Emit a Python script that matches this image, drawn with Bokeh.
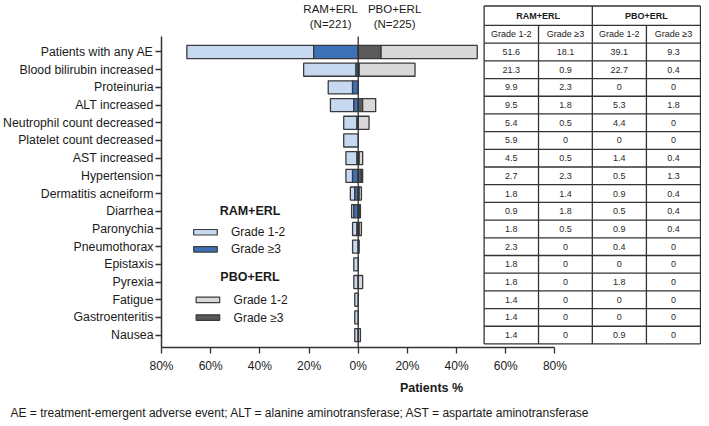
from bokeh.plotting import figure
from bokeh.models import Range1d, FixedTicker, CustomJSTickFormatter, Title
from bokeh.embed import file_html
from bokeh.resources import INLINE
from bokeh.core.properties import value

# ---------------- data ----------------
categories = ["Patients with any AE", "Blood bilirubin increased", "Proteinuria",
              "ALT increased", "Neutrophil count decreased", "Platelet count decreased",
              "AST increased", "Hypertension", "Dermatitis acneiform", "Diarrhea",
              "Paronychia", "Pneumothorax", "Epistaxis", "Pyrexia", "Fatigue",
              "Gastroenteritis", "Nausea"]
ram_g12 = [51.6, 21.3, 9.9, 9.5, 5.4, 5.9, 4.5, 2.7, 1.8, 0.9, 1.8, 2.3, 1.8, 1.8, 1.4, 1.4, 1.4]
ram_g3 = [18.1, 0.9, 2.3, 1.8, 0.5, 0, 0.5, 2.3, 1.4, 1.8, 0.5, 0, 0, 0, 0, 0, 0]
pbo_g12 = [39.1, 22.7, 0, 5.3, 4.4, 0, 1.4, 0.5, 0.9, 0.5, 0.9, 0.4, 0, 1.8, 0, 0, 0.9]
pbo_g3 = [9.3, 0.4, 0, 1.8, 0, 0, 0.4, 1.3, 0.4, 0.4, 0.4, 0, 0, 0, 0, 0, 0]
x_ticks = [-80, -60, -40, -20, 0, 20, 40, 60, 80]
group_labels = ["RAM+ERL", "PBO+ERL"]
group_n = ["(N=221)", "(N=225)"]
grade_labels = ["Grade 1-2", "Grade \u22653"]
x_label = "Patients %"
footnote = ("AE = treatment-emergent adverse event; ALT = alanine aminotransferase; "
            "AST = aspartate aminotransferase")

# ---------------- style ----------------
FONT = "Liberation Sans"
C_RAM12, C_RAM3 = "#c6d9f1", "#3e70b8"
C_PBO12, C_PBO3 = "#d9d9d9", "#5a5a5a"
EDGE = "#3a3a3a"
TXT = "#1a1a1a"

# layout helpers (page pixel -> data)
X0PX, XS = 360.0, 2.5
Y0PX, YS = 51.5, 17.69
def px(x):
    return (x - X0PX) / XS
def py(y):
    return (y - Y0PX) / YS

W, H = 701, 426
p = figure(width=W, height=H, x_range=Range1d(-80, 139.6), y_range=Range1d(16.70, -2.91),
           output_backend="svg", toolbar_location=None,
           min_border_left=152, min_border_right=0, min_border_top=0, min_border_bottom=79)
p.styles = {"margin-top": "0px"}
p.outline_line_color = None
p.xgrid.visible = False
p.ygrid.visible = False
p.background_fill_color = "white"

n = len(categories)
idx = list(range(n))

def bars(lefts, rights, color):
    ys, ls, rs = [], [], []
    for i, l, r in zip(idx, lefts, rights):
        if abs(r - l) > 1e-9:
            ys.append(i); ls.append(l); rs.append(r)
    p.hbar(y=ys, left=ls, right=rs, height=0.74, fill_color=color,
           line_color=EDGE, line_width=1.3)

bars([-(a + b) for a, b in zip(ram_g12, ram_g3)], [-b for b in ram_g3], C_RAM12)
bars([-b for b in ram_g3], [0] * n, C_RAM3)
bars([0] * n, pbo_g3, C_PBO3)
bars(pbo_g3, [a + b for a, b in zip(pbo_g12, pbo_g3)], C_PBO12)

# zero line
p.segment(x0=[0], y0=[py(36)], x1=[0], y1=[16.70], line_color="#333333", line_width=1.3)

# axes
p.xaxis.ticker = FixedTicker(ticks=x_ticks)
p.xaxis.formatter = CustomJSTickFormatter(code="return Math.abs(tick) + '%';")
p.xaxis.bounds = (-80, 80)
p.xaxis.axis_label = x_label
p.xaxis.axis_label_text_font = FONT
p.xaxis.axis_label_text_font_style = "bold"
p.xaxis.axis_label_text_font_size = "12.5px"
p.xaxis.axis_label_text_color = TXT
p.xaxis.axis_label_standoff = 5
p.xaxis.major_label_text_font = FONT
p.xaxis.major_label_text_font_size = "12px"
p.xaxis.major_label_text_color = TXT
p.xaxis.major_label_standoff = 5

p.yaxis.ticker = FixedTicker(ticks=idx)
p.yaxis.major_label_overrides = {i: c for i, c in zip(idx, categories)}
p.yaxis.bounds = (py(36), 16.70)
p.yaxis.major_label_text_font = FONT
p.yaxis.major_label_text_font_size = "12.3px"
p.yaxis.major_label_text_color = TXT
p.yaxis.major_label_standoff = 2

for ax in (p.xaxis, p.yaxis):
    ax.axis_line_color = "#333333"
    ax.axis_line_width = 1.5
    ax.major_tick_line_color = "#333333"
    ax.major_tick_line_width = 1.3
    ax.major_tick_out = 6
    ax.major_tick_in = 0
    ax.minor_tick_line_color = None

# group headers above bars
p.text(x=[px(332), px(397)], y=[py(9), py(9)], text=group_labels,
       text_font=value(FONT), text_font_size="11.5px", text_color=TXT,
       text_align="center", text_baseline="middle")
p.text(x=[px(332), px(397)], y=[py(24), py(24)], text=group_n,
       text_font=value(FONT), text_font_size="11.5px", text_color=TXT,
       text_align="center", text_baseline="middle")

# legend
leg_items = [
    (group_labels[0], py(210), [(C_RAM12, grade_labels[0], py(231.7)), (C_RAM3, grade_labels[1], py(248.8))], px(204.7), px(230.7)),
    (group_labels[1], py(276), [(C_PBO12, grade_labels[0], py(299.3)), (C_PBO3, grade_labels[1], py(317))], px(207.2), px(233.3)),
]
for title, ty, rows, sx, lx in leg_items:
    p.text(x=[px(250)], y=[ty], text=[title], text_font=value(FONT), text_font_size="12.5px",
           text_font_style="bold", text_color=TXT, text_align="center", text_baseline="middle")
    for col, lab, yy in rows:
        p.rect(x=[sx], y=[yy], width=24 / XS, height=5.5 / YS, fill_color=col,
               line_color=EDGE, line_width=1.2)
        p.text(x=[lx], y=[yy], text=[lab], text_font=value(FONT), text_font_size="12px",
               text_color=TXT, text_align="left", text_baseline="middle")

# table
cols = [px(488), px(543.3), px(598), px(653), px(708)]
top, mid = -2.6, -1.5
hy = [top, mid] + [i - 0.5 for i in idx] + [n - 0.5]
p.segment(x0=[cols[0]] * len(hy), y0=hy, x1=[cols[-1]] * len(hy), y1=hy,
          line_color="#333333", line_width=1.3)
p.segment(x0=[cols[0], cols[2], cols[4]], y0=[top] * 3, x1=[cols[0], cols[2], cols[4]],
          y1=[n - 0.5] * 3, line_color="#333333", line_width=1.3)
p.segment(x0=[cols[1], cols[3]], y0=[mid] * 2, x1=[cols[1], cols[3]], y1=[n - 0.5] * 2,
          line_color="#333333", line_width=1.3)

centers = [(cols[k] + cols[k + 1]) / 2 for k in range(4)]
p.text(x=[(cols[0] + cols[2]) / 2, (cols[2] + cols[4]) / 2], y=[(top + mid) / 2] * 2,
       text=group_labels, text_font=value(FONT), text_font_size="9px", text_font_style="bold",
       text_color=TXT, text_align="center", text_baseline="middle")
p.text(x=centers, y=[-1.0] * 4, text=grade_labels * 2, text_font=value(FONT),
       text_font_size="9px", text_color=TXT, text_align="center", text_baseline="middle")

def fmt(v):
    return "0" if v == 0 else f"{v:.1f}"

tx, ty, tt = [], [], []
for k, series in enumerate([ram_g12, ram_g3, pbo_g12, pbo_g3]):
    for i, v in zip(idx, series):
        tx.append(centers[k]); ty.append(i); tt.append(fmt(v))
p.text(x=tx, y=ty, text=tt, text_font=value(FONT), text_font_size="9px",
       text_color="#2a2a2a", text_align="center", text_baseline="middle")

# footnote
p.add_layout(Title(text=footnote, align="left", offset=-151, standoff=13,
                   text_font=FONT, text_font_size="12px", text_font_style="normal",
                   text_color=TXT), "below")

open("out.html", "w").write(file_html(p, INLINE))
